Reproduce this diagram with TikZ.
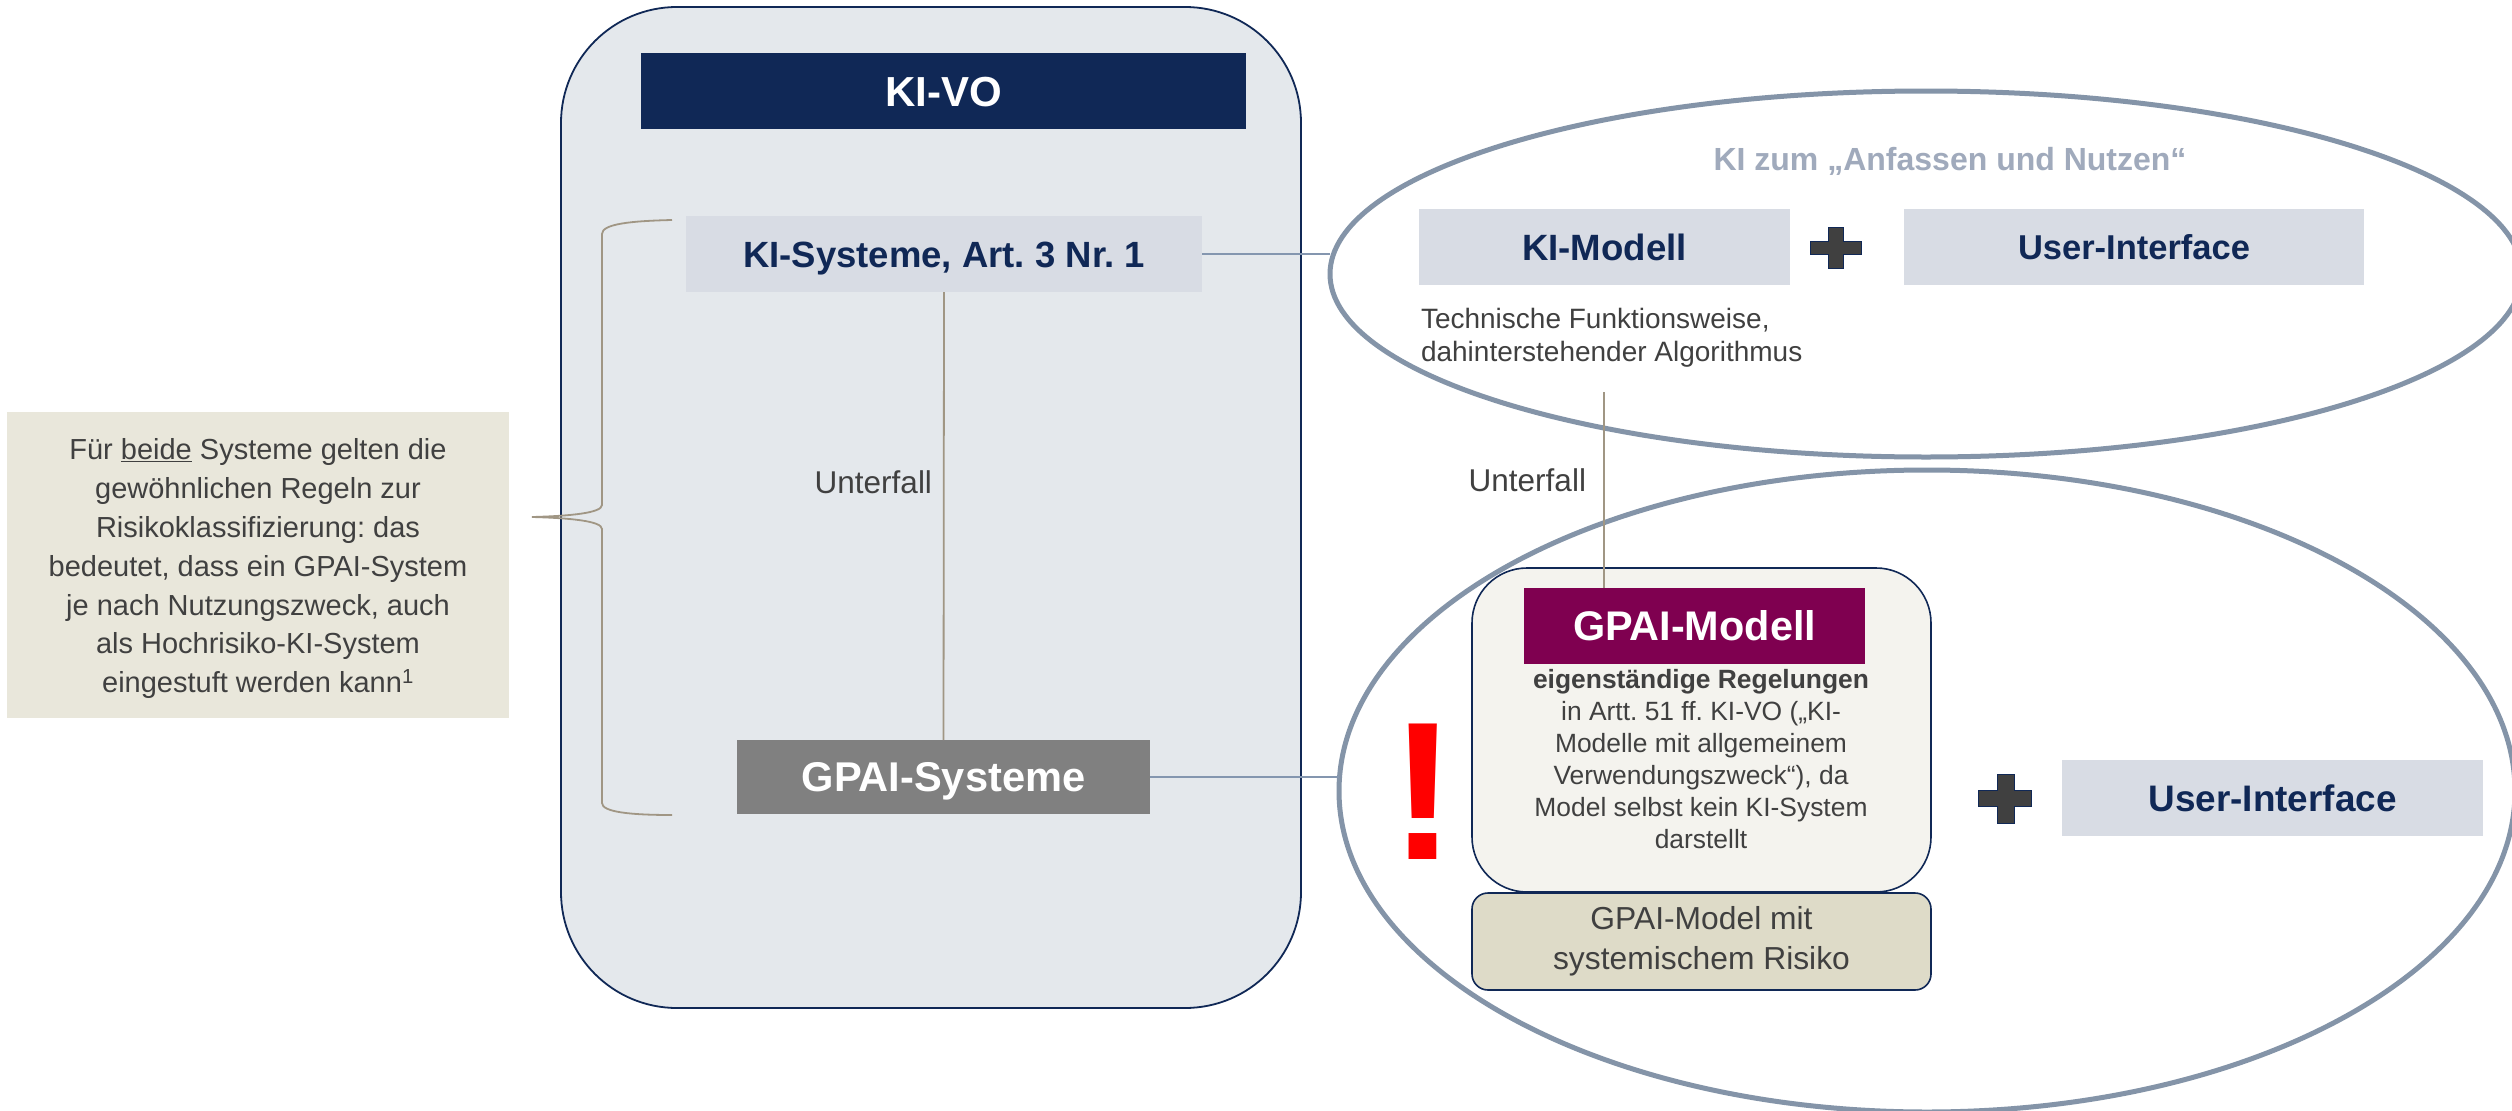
\documentclass[tikz,border=0pt]{standalone}
\usepackage{fontspec}
\setmainfont{Liberation Sans}[Ligatures=CommonOff]
\usetikzlibrary{shapes.geometric}
\frenchspacing
\definecolor{navy}{RGB}{16,40,86}
\definecolor{framefill}{RGB}{228,232,236}
\definecolor{boxfill}{RGB}{216,220,228}
\definecolor{txtgray}{RGB}{64,64,64}
\definecolor{notefill}{RGB}{233,231,219}
\definecolor{riskfill}{RGB}{222,219,200}
\definecolor{gpaifill}{RGB}{244,243,238}
\definecolor{gpaipurple}{RGB}{127,0,80}
\definecolor{ellcol}{RGB}{132,148,168}
\definecolor{titlecol}{RGB}{160,170,188}
\definecolor{brownline}{RGB}{160,150,132}
\definecolor{connblue}{RGB}{132,150,175}
\definecolor{sysgray}{RGB}{128,128,128}
\begin{document}
\frenchspacing
\begin{tikzpicture}[x=1pt,y=-1pt,
  every node/.style={inner sep=0pt, outer sep=0pt},
  flatbox/.style={rectangle, fill=boxfill, text=navy},
  conn/.style={draw=connblue, line width=2pt},
  subline/.style={draw=brownline, line width=1.8pt},
  ringstyle/.style={ellipse, draw=ellcol, line width=5pt},
  plusstyle/.style={fill=txtgray, draw=navy, line width=1pt}
]
\useasboundingbox (0,0) rectangle (2512,1111);
\clip (0,0) rectangle (2512,1111);
\fill[white] (0,0) rectangle (2512,1111);

% ---------- left frame ----------
\node[rectangle, draw=navy, line width=1.8pt, fill=framefill, rounded corners=116pt,
      minimum width=740pt, minimum height=1001pt] (frame) at (931,507.5) {};

\node[rectangle, fill=navy, text=white, minimum width=605pt, minimum height=76pt,
      font=\fontsize{42}{50}\selectfont\bfseries, text height=30.1pt, text depth=0pt] (kivo) at (943.5,91) {KI-VO};

\node[flatbox, minimum width=516pt, minimum height=76pt,
      font=\fontsize{36.5}{44}\selectfont\bfseries, text height=26.1pt, text depth=0pt] (kisys) at (944,254) {KI-Systeme, Art. 3 Nr. 1};

\node[rectangle, fill=sysgray, text=white, minimum width=413pt, minimum height=74pt,
      font=\fontsize{41.6}{50}\selectfont\bfseries, text height=29.8pt, text depth=0pt] (gpaisys) at (943.5,777) {GPAI-Systeme};

\node[anchor=base east, text=txtgray, font=\fontsize{31.5}{38}\selectfont] (sub1) at (932,493) {Unterfall};

\draw[subline] (kisys.south) -- (gpaisys.north);

% ---------- note ----------
\node[rectangle, fill=notefill, minimum width=502pt, minimum height=306pt] (note) at (258,565) {};
\node[anchor=north, align=center, text=txtgray, font=\fontsize{29}{38.8}\selectfont] (notetext) at (258,432.8)
  {\strut Für \underline{beide} Systeme gelten die\\ gewöhnlichen Regeln zur\\ Risikoklassifizierung: das\\ bedeutet, dass ein GPAI-System\\ je nach Nutzungszweck, auch\\ als Hochrisiko-KI-System\\ eingestuft werden kann\textsuperscript{1}\strut};

% brace
\draw[draw=brownline, line width=1.8pt]
  (672,220) .. controls (630,221) and (602,224) .. (602,234) -- (602,505)
  .. controls (602,513) and (570,516) .. (532,517)
  .. controls (570,518) and (602,521) .. (602,529) -- (602,803)
  .. controls (602,812) and (630,815) .. (672,815);

% ---------- right ellipses ----------
\coordinate (sub2top) at (1604,392);
\node[ringstyle, minimum width=1192pt, minimum height=366pt] (ell1) at (1926,274) {};
\node[ringstyle, minimum width=1176pt, minimum height=642pt] (ell2) at (1927,791) {};

\node[anchor=base, text=titlecol, font=\fontsize{32}{38}\selectfont\bfseries] (title) at (1950,170) {KI zum „Anfassen und Nutzen“};

\node[flatbox, minimum width=371pt, minimum height=76pt,
      font=\fontsize{36.6}{44}\selectfont\bfseries, text height=26.2pt, text depth=0pt] (kimodell) at (1604.5,247) {KI-Modell};

\filldraw[plusstyle] (1828,227) -- (1843,227) -- (1843,241) -- (1861,241) -- (1861,254) -- (1843,254) -- (1843,268)
  -- (1828,268) -- (1828,254) -- (1810,254) -- (1810,241) -- (1828,241) -- cycle;

\node[flatbox, minimum width=460pt, minimum height=76pt,
      font=\fontsize{34.5}{42}\selectfont\bfseries, text height=24.7pt, text depth=0pt] (ui1) at (2134,247) {User-Interface};

\node[anchor=north west, align=left, text=txtgray, font=\fontsize{28}{33.3}\selectfont] (tech) at (1421,304.7)
  {\strut Technische Funktionsweise,\\ dahinterstehender Algorithmus\strut};

\node[anchor=base east, text=txtgray, font=\fontsize{31.5}{38}\selectfont] (sub2) at (1586,491) {Unterfall};

\node[rectangle, draw=navy, line width=1.6pt, fill=gpaifill, rounded corners=55pt,
      minimum width=459pt, minimum height=324pt] (gpaiframe) at (1701.5,730) {};

\node[rectangle, fill=gpaipurple, text=white, minimum width=341pt, minimum height=76pt,
      font=\fontsize{41.4}{50}\selectfont\bfseries, text height=29.6pt, text depth=0pt] (gpaimodell) at (1694.5,626) {GPAI-Modell};

\node[anchor=north, align=center, text=txtgray, font=\fontsize{26.4}{32}\selectfont] (gpaitext) at (1701,666)
  {\strut\textbf{eigenständige Regelungen}\\ in Artt. 51 ff. KI-VO („KI-\\ Modelle mit allgemeinem\\ Verwendungszweck“), da\\ Model selbst kein KI-System\\ darstellt\strut};

\node[rectangle, draw=navy, line width=1.6pt, fill=riskfill, rounded corners=16pt,
      minimum width=459pt, minimum height=97pt, align=center, text=txtgray,
      font=\fontsize{31.8}{39.5}\selectfont] (risk) at (1701.5,941.5)
  {\strut GPAI-Model mit\\ systemischem Risiko\strut};

\node[anchor=base, text=red, font=\fontsize{197}{200}\selectfont\bfseries] (excl) at (1423,859) {!};

\filldraw[plusstyle] (1997,774) -- (2014,774) -- (2014,790) -- (2031,790) -- (2031,806) -- (2014,806) -- (2014,823)
  -- (1997,823) -- (1997,806) -- (1978,806) -- (1978,790) -- (1997,790) -- cycle;

\node[flatbox, minimum width=421pt, minimum height=76pt,
      font=\fontsize{36.9}{44}\selectfont\bfseries, text height=26.4pt, text depth=0pt] (ui2) at (2272.5,798) {User-Interface};

% ---------- connectors ----------
\draw[conn] (kisys.east) -- (kisys.east -| ell1.west);
\draw[conn] (gpaisys.east) -- (gpaisys.east -| ell2.west);
\draw[subline] (sub2top) -- (sub2top |- gpaimodell.north);
\end{tikzpicture}
\end{document}
